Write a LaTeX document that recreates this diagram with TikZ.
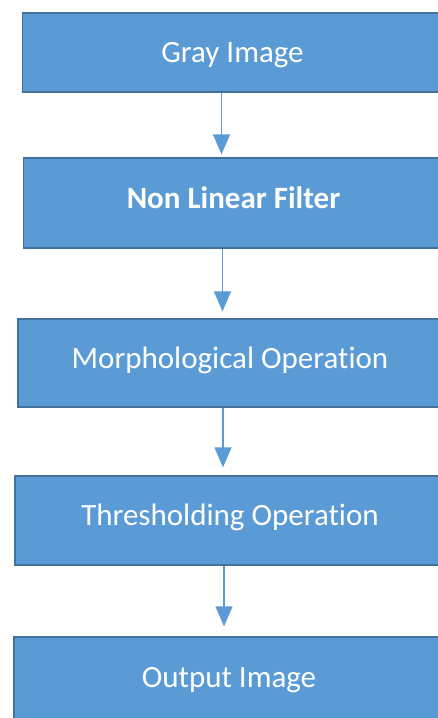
\documentclass[tikz,border=0pt]{standalone}
\usepackage{fontspec}
\setmainfont[Ligatures=NoCommon]{Carlito}
\usepackage{tikz}
\usetikzlibrary{arrows.meta, positioning, calc}
\definecolor{boxblue}{RGB}{91,155,213}
\definecolor{boxedge}{RGB}{65,113,156}
\tikzset{
  stagebox/.style={rectangle, draw=boxedge, fill=boxblue, text=white,
    minimum height=90pt, align=center, line width=1.3pt,
    font=\fontsize{31}{37}\selectfont, text height=20pt, text depth=10pt},
  flowarrow/.style={-{Triangle[width=17pt,length=20pt]}, line width=1.3pt, color=boxblue}
}
\begin{document}
\begin{tikzpicture}[x=1pt, y=-1pt]
  % Page frame
  \useasboundingbox (0,0) rectangle (438,718);
  \clip (0,0) rectangle (438,718);

  % Stages
  \node[stagebox, minimum width=420pt, minimum height=79pt, text depth=0pt] (gray) at (232.5,52.5) {Gray Image};
  \node[stagebox, minimum width=420pt, font=\fontsize{31}{37}\selectfont\bfseries] (filter) at (233.5,203) {Non Linear Filter};
  \node[stagebox, minimum width=424pt, minimum height=88pt] (morph) at (230,363) {Morphological Operation};
  \node[stagebox, minimum width=430pt, minimum height=89pt] (thresh) at (230,520.5) {Thresholding Operation};
  \node[stagebox, minimum width=430pt] (output) at (229,682) {Output Image};

  % Arrows between stages
  \foreach \a/\b/\x/\gap in {gray/filter/221.5/3pt, filter/morph/222.5/7pt,
                             morph/thresh/223/8pt, thresh/output/224/10pt} {
    \draw[flowarrow, shorten >=\gap] (\a.south -| \x,0) -- (\b.north -| \x,0);
  }
\end{tikzpicture}
\end{document}
